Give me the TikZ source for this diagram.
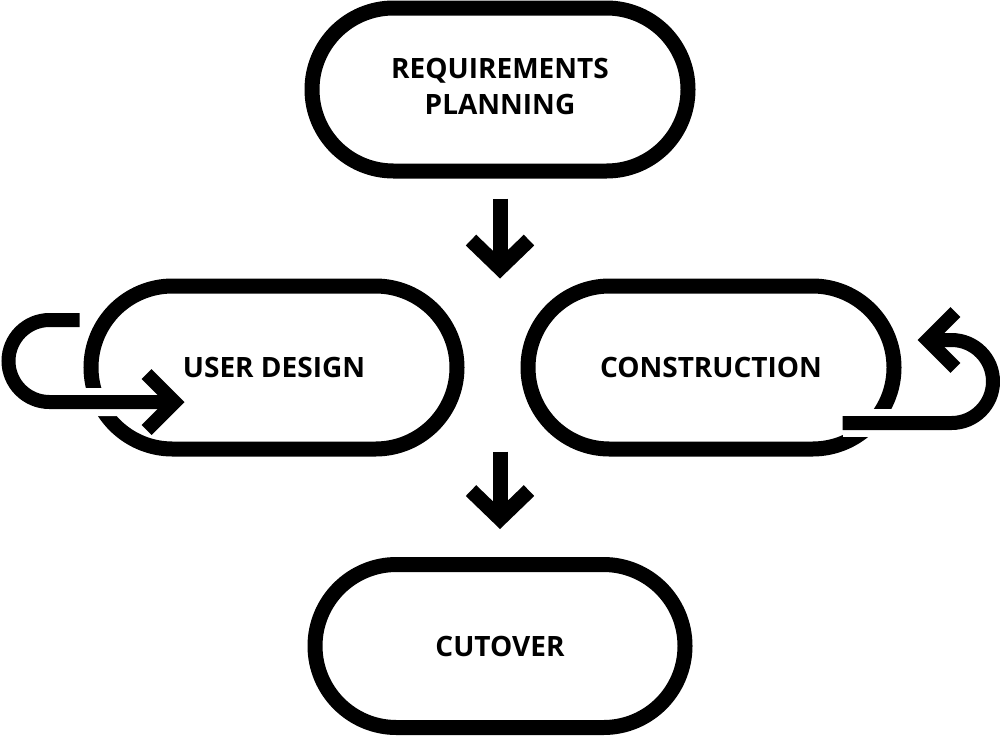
\documentclass[tikz,border=0pt]{standalone}
\usepackage{fontspec}
\setmainfont{Open Sans}
\usetikzlibrary{arrows.meta,shapes.misc}

\begin{document}
\begin{tikzpicture}[x=1pt,y=-1pt,
  phase/.style={rounded rectangle, draw=black, line width=15pt, minimum height=163pt,
    inner sep=0pt, align=center, font=\bfseries\fontsize{28}{36}\selectfont},
  flow/.style={line width=15pt, -{Straight Barb[length=28pt,width=58pt,line cap=butt,line join=miter]}},
  loopline/.style={line width=14pt, -{Straight Barb[length=28pt,width=56pt,line cap=butt,line join=miter]}},
  gap/.style={line width=28pt, white}]
\useasboundingbox (0,0) rectangle (1000,737);
\node[phase, minimum width=376pt] (req) at (500,89.5) {REQUIREMENTS\\PLANNING\rule[-6pt]{0pt}{0pt}};
\node[phase, minimum width=366pt] (design) at (274,367.5) {USER DESIGN};
\node[phase, minimum width=366pt] (constr) at (711,367.5) {CONSTRUCTION};
\node[phase, minimum width=370pt] (cutover) at (500,646) {CUTOVER};
\draw[flow, shorten <=20pt] (req.south) -- (req.south |- design.north);
\draw[flow, shorten <=-5pt, shorten >=28pt] (cutover.north |- design.south) -- (cutover.north);
\coordinate (ul) at ([shift={(-4,-47.5)}]design.west);
\coordinate (ut) at ([shift={(101,34.5)}]design.west);
\draw[gap] (ul) -- ++(-30,0) arc[start angle=90,end angle=270,radius=41pt] -- ([xshift=-50pt]ut);
\draw[loopline] (ul) -- ++(-30,0) arc[start angle=90,end angle=270,radius=41pt] -- (ut);
\coordinate (cl) at ([shift={(-59,55.5)}]constr.east);
\coordinate (ct) at ([shift={(16,-27.5)}]constr.east);
\draw[gap] (cl) -- ++(109,0);
\draw[loopline] (cl) -- ++(109,0) arc[start angle=-90,end angle=90,radius=41.5pt] -- (ct);
\end{tikzpicture}
\end{document}
